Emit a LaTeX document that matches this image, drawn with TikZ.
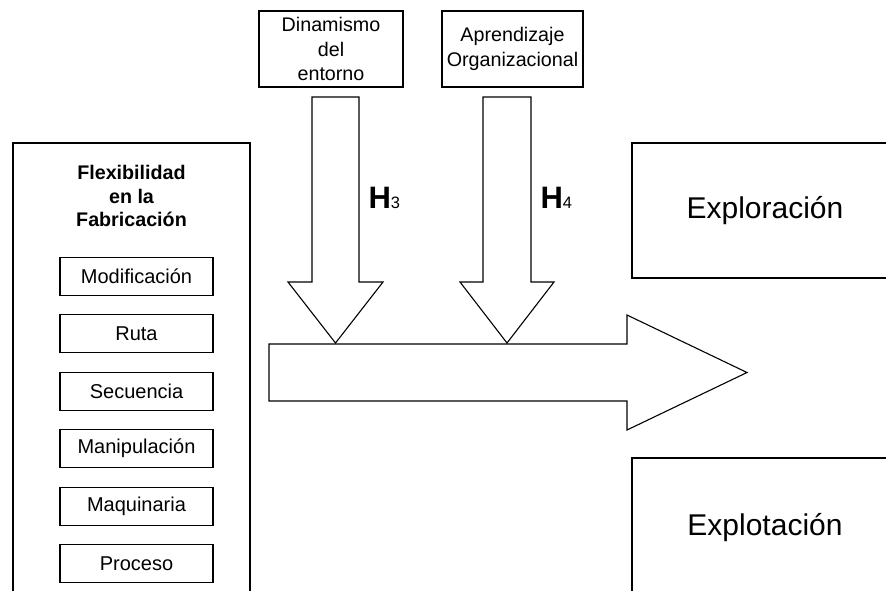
\documentclass[tikz,border=0pt]{standalone}
\usepackage{fontspec}
\setmainfont{Liberation Sans}
\usetikzlibrary{arrows}

\begin{document}
\begin{tikzpicture}[x=1pt,y=-1pt,line width=1.1pt,node distance=57.4pt,
  caja/.style={draw,rectangle,align=center,inner sep=0pt},
  tipo/.style={minimum width=153pt,minimum height=38pt,font=\fontsize{20}{24}\selectfont},
  grande/.style={font=\fontsize{30}{35}\selectfont}]
\useasboundingbox (0,0) rectangle (886,590);
\clip (0,0) rectangle (886,590);

% factores de arriba
\node[caja,minimum width=144pt,minimum height=76pt,font=\fontsize{19.7}{24.5}\selectfont] (din) at (331,49) {Dinamismo\\del\\entorno};
\node[caja,minimum width=141pt,minimum height=76pt,font=\fontsize{19.7}{24.5}\selectfont] (apr) at (512.5,49) {Aprendizaje\\Organizacional};

% flexibilidad
\draw (13,143) rectangle (250,610);
\node[align=center,font=\bfseries\fontsize{19.7}{23.5}\selectfont] (tit) at (131.5,196) {Flexibilidad\\en la\\Fabricaci\'on};
\node[caja,tipo] (1) at (136.5,276.5) {Modificaci\'on};
\node[caja,tipo] (2) [below of=1] {Ruta};
\node[caja,tipo] (3) [below of=2] {Secuencia};
\node[caja,tipo] (4) [below of=3] {Manipulaci\'on};
\node[caja,tipo] (5) [below of=4] {Maquinaria};
\node[caja,tipo] (6) [below of=5] {Proceso};

% resultados
\node[caja,grande,minimum width=266pt,minimum height=135pt] (exr) at (765,210.5) {Exploraci\'on};
\node[caja,grande,minimum width=266pt,minimum height=140pt] (exp) at (765,528) {Explotaci\'on};

% flechas
\draw (269,344) -- (627,344) -- (627,315) -- (747,372.5) -- (627,430) -- (627,401) -- (269,401) -- cycle;
\draw (312,97) -- (312,282) -- (288,282) -- (335.5,343) -- (383,282) -- (359,282) -- (359,97) -- cycle;
\draw (483,97) -- (483,282) -- (460,282) -- (507,343) -- (554,282) -- (531,282) -- (531,97) -- cycle;

\node[anchor=base west,inner sep=0pt] (h3) at (368,208) {{\bfseries\fontsize{31}{31}\selectfont H}{\fontsize{16.5}{16.5}\selectfont 3}};
\node[anchor=base west,inner sep=0pt] (h4) at (540,208) {{\bfseries\fontsize{31}{31}\selectfont H}{\fontsize{16.5}{16.5}\selectfont 4}};

\end{tikzpicture}
\end{document}
